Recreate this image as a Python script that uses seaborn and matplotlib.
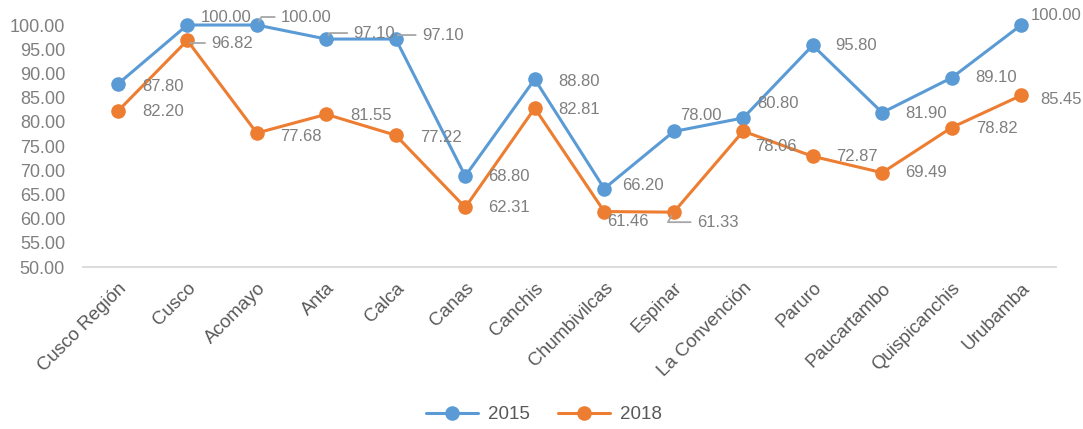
import matplotlib
matplotlib.use("Agg")
import matplotlib.pyplot as plt
from matplotlib.lines import Line2D
import seaborn as sns
import pandas as pd

categories = ["Cusco Región", "Cusco", "Acomayo", "Anta", "Calca", "Canas", "Canchis",
              "Chumbivilcas", "Espinar", "La Convención", "Paruro", "Paucartambo",
              "Quispicanchis", "Urubamba"]
values_2015 = [87.80, 100.00, 100.00, 97.10, 97.10, 68.80, 88.80, 66.20, 78.00, 80.80,
               95.80, 81.90, 89.10, 100.00]
values_2018 = [82.20, 96.82, 77.68, 81.55, 77.22, 62.31, 82.81, 61.46, 61.33, 78.06,
               72.87, 69.49, 78.82, 85.45]
years = ["2015", "2018"]
y_ticks = [50, 55, 60, 65, 70, 75, 80, 85, 90, 95, 100]

# label offsets in pixels (dx, dy) of text left-center relative to point
off_2015 = [(24, -2), (13, 8), (24, 8), (27, 6), (26, 4), (23, 0), (23, -2), (18, 3),
            (6, 16), (14, 14), (23, 0), (23, -1), (24, 0), (10, 10)]
off_2018 = [(24, 0), (24, -3), (23, -3), (24, -1), (24, -2), (23, 0), (23, -1), (3, -10),
            (23, -10), (12, -15), (23, 0), (23, 0), (24, -1), (19, -4)]
leader_2015 = [False, False, True, True, True, False, False, False, False, False, False, False, False, False]
leader_2018 = [False, True, False, False, False, False, False, False, True, False, False, False, False, False]

sns.set_theme(style="white")
plt.rcParams["font.family"] = ["Liberation Sans", "DejaVu Sans"]

df = pd.DataFrame({
    "pos": list(range(len(categories))) * 2,
    "value": values_2015 + values_2018,
    "year": [years[0]] * len(categories) + [years[1]] * len(categories),
})

colors = {"2015": "#5B9BD5", "2018": "#ED7D31"}

fig = plt.figure(figsize=(10.83, 4.29), dpi=100)
ax = fig.add_axes([0.0767, 0.3776, 0.8983, 0.5641])

sns.lineplot(data=df, x="pos", y="value", hue="year", palette=colors, marker="o",
             markersize=10.5, markeredgewidth=0, linewidth=2.2, ax=ax, legend=False,
             sort=False)
for ln in ax.lines:
    ln.set_clip_on(False)

ax.set_xlim(-0.5, len(categories) - 0.5)
ax.set_ylim(50, 100)
ax.set_yticks(y_ticks)
ax.set_yticklabels([f"{t:.2f}" for t in y_ticks], color="#7f7f7f", fontsize=13)
ax.set_xticks(range(len(categories)))
ax.set_xticklabels(categories, rotation=45, ha="right", rotation_mode="anchor",
                   color="#595959", fontsize=13.5)
ax.tick_params(axis="both", length=0)
ax.tick_params(axis="x", pad=9)
ax.tick_params(axis="y", pad=13)
ax.set_xlabel("")
ax.set_ylabel("")
for s in ["top", "right", "left"]:
    ax.spines[s].set_visible(False)
ax.spines["bottom"].set_color("#d9d9d9")
ax.spines["bottom"].set_linewidth(1.3)

def label(vals, offs, leaders):
    for i, (v, (dx, dy), ld) in enumerate(zip(vals, offs, leaders)):
        kw = {}
        if ld:
            kw["arrowprops"] = dict(arrowstyle="-", color="#a6a6a6", lw=1.3,
                                    shrinkA=2, shrinkB=3, relpos=(0, 0.5),
                                    connectionstyle="angle,angleA=0,angleB=60,rad=0")
        ax.annotate(f"{v:.2f}", xy=(i, v), xytext=(dx, dy), textcoords="offset pixels",
                    ha="left", va="center", color="#7f7f7f", fontsize=12,
                    annotation_clip=False, **kw)

label(values_2015, off_2015, leader_2015)
label(values_2018, off_2018, leader_2018)

handles = [Line2D([0], [0], color=colors[y], lw=2.2, marker="o", markersize=10.5,
                  markeredgewidth=0) for y in years]
fig.legend(handles, years, loc="center", bbox_to_anchor=(0.502, 0.033), ncol=2,
           frameon=False, handlelength=2.8, columnspacing=1.5, handletextpad=0.5,
           prop={"family": ["Liberation Sans", "DejaVu Sans"], "size": 13.5},
           labelcolor="#595959")

fig.savefig("out.png", dpi=100)
